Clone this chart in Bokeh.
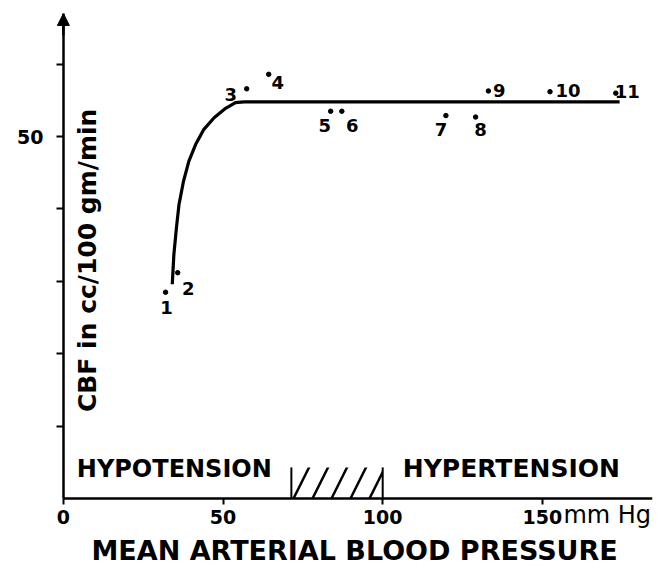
from bokeh.plotting import figure
from bokeh.models import Arrow, NormalHead, Label, ColumnDataSource, FixedTicker
from bokeh.core.properties import value
from bokeh.embed import file_html
from bokeh.resources import INLINE

# ---- data ----
point_ids = ["1", "2", "3", "4", "5", "6", "7", "8", "9", "10", "11"]
point_map = [32.0, 35.8, 57.4, 64.3, 83.7, 87.2, 119.8, 129.1, 133.1, 152.4, 173.0]   # mm Hg
point_cbf = [28.5, 31.2, 56.6, 58.6, 53.5, 53.5, 52.9, 52.7, 56.3, 56.2, 56.0]        # cc/100 gm/min

curve_map = [34.1, 34.6, 35.4, 36.2, 37.6, 39.3, 41.4, 44.0, 47.2, 50.8, 53.9, 56.6, 174.2]
curve_cbf = [29.6, 33.7, 37.4, 40.6, 43.8, 46.6, 48.9, 51.0, 52.6, 53.9, 54.7, 54.8, 54.8]

normal_zone = [71.4, 100.0]   # hatched normotensive range, mm Hg
zone_height = 4.3

x_ticks = [0, 50, 100, 150]
x_tick_labels = {0: "0", 50: "50", 100: "100", 150: "150"}
y_ticks = [10, 20, 30, 40, 50, 60]
y_tick_labels = {10: "", 20: "", 30: "", 40: "", 50: "50", 60: ""}

# ---- layout: the frame covers the whole drawing, axes sit at 0 ----
X_END = 184.5
Y_END = 67.0
PX_PER_X = 3.193
PX_PER_Y = 7.24
FRAME_W = 652
FRAME_H = 552
X_START = X_END - FRAME_W / PX_PER_X
Y_START = Y_END - FRAME_H / PX_PER_Y

# label offsets (screen px) for the point numbers
lab_dx = [1, 10.5, -16, 9, -6, 10.5, -5, 5, 11, 18, 11.5]
lab_dy = [15, 15.5, 5.5, 8.5, 14, 14, 13.5, 12, -0.5, -1, -2]

FONT = "DejaVu Sans"

p = figure(frame_width=FRAME_W, frame_height=FRAME_H,
           x_range=(X_START, X_END), y_range=(Y_START, Y_END),
           output_backend="svg", toolbar_location=None,
           min_border_left=0, min_border_right=2, min_border_top=13, min_border_bottom=0)
p.outline_line_color = None
p.grid.visible = False
p.background_fill_color = "white"
p.border_fill_color = "white"

# axes
xa = p.xaxis[0]
xa.fixed_location = 0
xa.bounds = (0, X_END)
xa.ticker = FixedTicker(ticks=x_ticks)
xa.major_label_overrides = x_tick_labels
xa.axis_line_width = 2.5
xa.major_tick_line_width = 2
xa.major_tick_out = 6
xa.major_tick_in = 0
xa.minor_tick_line_color = None
xa.major_label_standoff = 5
xa.major_label_text_font = FONT
xa.major_label_text_font_style = "bold"
xa.major_label_text_font_size = "19px"
xa.major_label_text_color = "black"

ya = p.yaxis[0]
ya.fixed_location = 0
ya.bounds = (0, Y_END)
ya.ticker = FixedTicker(ticks=y_ticks)
ya.major_label_overrides = y_tick_labels
ya.axis_line_width = 2.5
ya.major_tick_line_width = 2
ya.major_tick_out = 7
ya.major_tick_in = 0
ya.minor_tick_line_color = None
ya.major_label_standoff = 13
ya.major_label_text_font = FONT
ya.major_label_text_font_style = "bold"
ya.major_label_text_font_size = "19px"
ya.major_label_text_color = "black"

# arrow head on the y axis
p.add_layout(Arrow(end=NormalHead(size=12, fill_color="black", line_color="black"),
                   x_start=0, y_start=Y_END - 3, x_end=0, y_end=Y_END,
                   line_color="black", line_width=2.5))

# hatched normal range
p.quad(left=[normal_zone[0]], right=[normal_zone[1]], bottom=[0], top=[zone_height],
       fill_color=None, line_color=None, hatch_pattern="/", hatch_color="black",
       hatch_weight=2.5, hatch_scale=38)
p.segment(x0=normal_zone, y0=[0, 0], x1=normal_zone, y1=[zone_height, zone_height],
          line_color="black", line_width=2)

# curve
p.line(curve_map, curve_cbf, line_color="black", line_width=3.2, line_join="round")

# points
src = ColumnDataSource(dict(x=point_map, y=point_cbf, t=point_ids, dx=lab_dx, dy=lab_dy))
p.scatter("x", "y", source=src, size=4.5, color="black")
p.text("x", "y", text="t", source=src, x_offset="dx", y_offset="dy",
       text_align="center", text_baseline="middle",
       text_font=value(FONT), text_font_style="bold", text_font_size="18px",
       text_color="black")

# labels
def lab(txt, x, y, size, align="left", baseline="alphabetic", angle=0, style="bold"):
    p.add_layout(Label(x=x, y=y, text=txt, text_font=FONT, text_font_style=style,
                       text_font_size=size, text_align=align, text_baseline=baseline,
                       angle=angle, text_color="black"))

lab("HYPOTENSION", 4.2, 4.1, "24px")
lab("HYPERTENSION", 106.3, 4.1, "25px")
lab("CBF in cc/100 gm/min", 7.6, 32.9, "25px", align="center", baseline="middle",
    angle=1.5708)
lab("mm Hg", 156.6, -2.2, "24px", style="normal")
lab("MEAN ARTERIAL BLOOD PRESSURE", 91.2, -7.2, "27px", align="center", baseline="middle")

open("out.html", "w").write(file_html(p, INLINE))
